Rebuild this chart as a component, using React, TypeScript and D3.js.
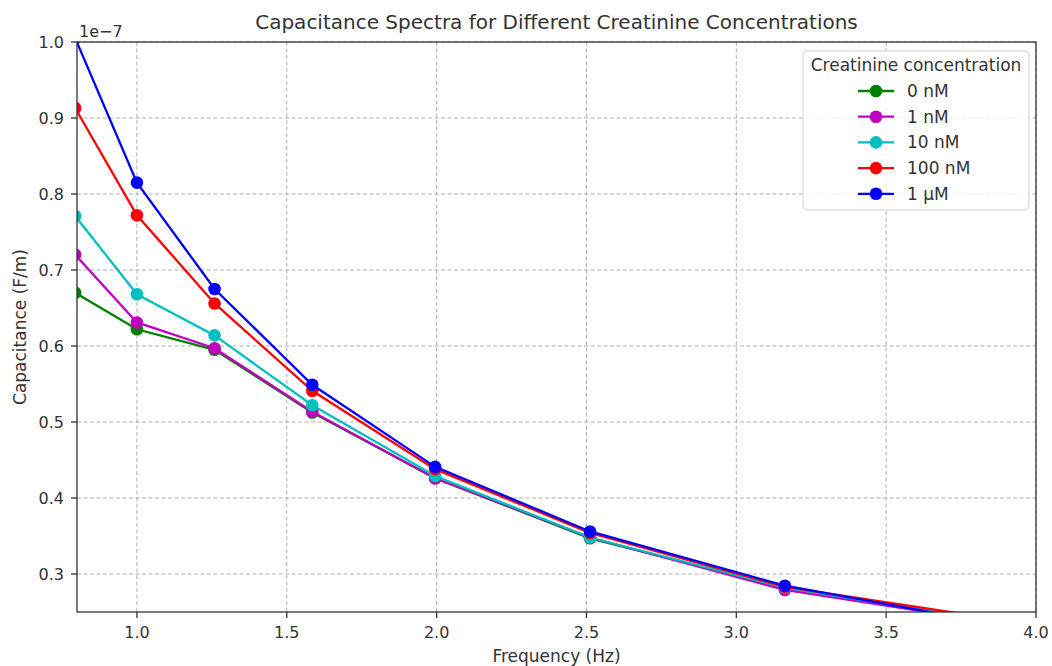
import React from "react";
import * as d3 from "d3";

const frequencies = [0.794, 1.0, 1.259, 1.585, 1.995, 2.512, 3.162, 3.981];
const seriesNames = ["0 nM", "1 nM", "10 nM", "100 nM", "1 µM"];
const seriesColors = ["#008000", "#bf00bf", "#00bfbf", "#ff0000", "#0000ff"];
const cap0nM = [0.670, 0.622, 0.595, 0.5125, 0.426, 0.347, 0.282, 0.230];
const cap1nM = [0.720, 0.631, 0.597, 0.5136, 0.426, 0.348, 0.279, 0.229];
const cap10nM = [0.771, 0.668, 0.614, 0.522, 0.429, 0.348, 0.282, 0.230];
const cap100nM = [0.913, 0.772, 0.656, 0.541, 0.438, 0.354, 0.283, 0.234];
const cap1uM = [1.005, 0.815, 0.675, 0.549, 0.441, 0.356, 0.2846, 0.226];
const seriesValues = [cap0nM, cap1nM, cap10nM, cap100nM, cap1uM];
const xTicks = [1.0, 1.5, 2.0, 2.5, 3.0, 3.5, 4.0];
const yTicks = [0.3, 0.4, 0.5, 0.6, 0.7, 0.8, 0.9, 1.0];

const W = 1052;
const H = 666;
const L = 77;
const R = 1036;
const T = 42;
const B = 612;
const FONT = "'DejaVu Sans', sans-serif";
const TXT = "#333";

export default function App() {
  const x = d3.scaleLinear().domain([0.8, 4.0]).range([L, R]);
  const y = d3.scaleLinear().domain([0.25, 1.0]).range([B, T]);
  const line = d3
    .line<number>()
    .x((_, i) => x(frequencies[i]))
    .y((d) => y(d));

  const legX = 803;
  const legY = 51;
  const legW = 226;
  const legH = 159;

  return (
    <svg
      width={W}
      height={H}
      style={{ position: "absolute", left: 0, top: 0, background: "#fff" }}
      fontFamily={FONT}
    >
      <defs>
        <clipPath id="plotclip">
          <rect x={L} y={T} width={R - L} height={B - T} />
        </clipPath>
      </defs>
      <rect x={0} y={0} width={W} height={H} fill="#fff" />
      {/* grid */}
      <g stroke="#b0b0b0" strokeWidth={1} strokeDasharray="4,2.5">
        {xTicks.map((t) => (
          <line key={"gx" + t} x1={x(t)} x2={x(t)} y1={T} y2={B} />
        ))}
        {yTicks.map((t) => (
          <line key={"gy" + t} x1={L} x2={R} y1={y(t)} y2={y(t)} />
        ))}
      </g>
      {/* series */}
      <g clipPath="url(#plotclip)">
        {seriesValues.map((vals, si) => (
          <g key={seriesNames[si]}>
            <path d={line(vals) || ""} fill="none" stroke={seriesColors[si]} strokeWidth={2.3} />
            {vals.map((v, i) => (
              <circle key={i} cx={x(frequencies[i])} cy={y(v)} r={6.3} fill={seriesColors[si]} />
            ))}
          </g>
        ))}
      </g>
      {/* axes frame */}
      <rect x={L} y={T} width={R - L} height={B - T} fill="none" stroke="#333" strokeWidth={1.3} />
      {/* x ticks */}
      {xTicks.map((t) => (
        <g key={"xt" + t}>
          <line x1={x(t)} x2={x(t)} y1={B} y2={B + 6} stroke="#333" strokeWidth={1.3} />
          <text x={x(t)} y={B + 26} textAnchor="middle" fontSize={16} fill={TXT}>
            {t.toFixed(1)}
          </text>
        </g>
      ))}
      {/* y ticks */}
      {yTicks.map((t) => (
        <g key={"yt" + t}>
          <line x1={L - 6} x2={L} y1={y(t)} y2={y(t)} stroke="#333" strokeWidth={1.3} />
          <text x={L - 13} y={y(t) + 6} textAnchor="end" fontSize={16} fill={TXT}>
            {t.toFixed(1)}
          </text>
        </g>
      ))}
      <text x={L + 2} y={T - 5} fontSize={16} fill={TXT}>
        1e−7
      </text>
      {/* title and labels */}
      <text x={(L + R) / 2} y={29} textAnchor="middle" fontSize={20} fill={TXT}>
        Capacitance Spectra for Different Creatinine Concentrations
      </text>
      <text x={(L + R) / 2} y={662} textAnchor="middle" fontSize={17} fill={TXT}>
        Frequency (Hz)
      </text>
      <text
        transform={`translate(26,${(T + B) / 2}) rotate(-90)`}
        textAnchor="middle"
        fontSize={17}
        fill={TXT}
      >
        Capacitance (F/m)
      </text>
      {/* legend */}
      <rect
        x={legX}
        y={legY}
        width={legW}
        height={legH}
        rx={4}
        fill="#fff"
        fillOpacity={0.8}
        stroke="#d0d0d0"
      />
      <text x={legX + legW / 2} y={legY + 20} textAnchor="middle" fontSize={17} fill={TXT}>
        Creatinine concentration
      </text>
      {seriesNames.map((name, i) => {
        const ly = 91 + i * 25.7;
        return (
          <g key={"leg" + name}>
            <line x1={858} x2={894} y1={ly} y2={ly} stroke={seriesColors[i]} strokeWidth={2.3} />
            <circle cx={876} cy={ly} r={6.3} fill={seriesColors[i]} />
            <text x={907} y={ly + 6} fontSize={17} fill={TXT}>
              {name}
            </text>
          </g>
        );
      })}
    </svg>
  );
}
